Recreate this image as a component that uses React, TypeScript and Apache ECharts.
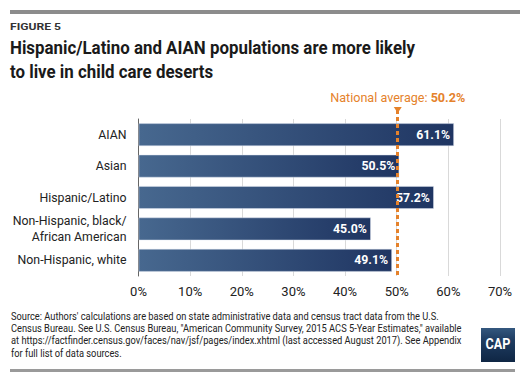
import React, { useEffect, useRef } from "react";
import * as echarts from "echarts";

const categories = ["AIAN", "Asian", "Hispanic/Latino", "Non-Hispanic, black/\nAfrican American", "Non-Hispanic, white"];
const values = [61.1, 50.5, 57.2, 45.0, 49.1];
const nationalAverage = 50.2;
const xTicks = { min: 0, max: 70, interval: 10 };
const titleLines = ["Hispanic/Latino and AIAN populations are more likely", "to live in child care deserts"];
const figureLabel = "FIGURE 5";
const sourceLines = [
  "Source: Authors' calculations are based on state administrative data and census tract data from the U.S.",
  "Census Bureau. See U.S. Census Bureau, \"American Community Survey, 2015 ACS 5-Year Estimates,\" available",
  "at https://factfinder.census.gov/faces/nav/jsf/pages/index.xhtml (last accessed August 2017). See Appendix",
  "for full list of data sources.",
];

const ORANGE = "#e5822b";

function fitScale(text: string, font: string, target: number): number {
  const c = document.createElement("canvas").getContext("2d");
  if (!c) return 1;
  c.font = font;
  const w = c.measureText(text).width;
  return w > 0 ? target / w : 1;
}

export default function App() {
  const ref = useRef<HTMLDivElement>(null);
  useEffect(() => {
    if (!ref.current) return;
    const chart = echarts.init(ref.current, null, { renderer: "svg" });
    const titleFont = "bold 18px Roboto";
    const titleScale = fitScale(titleLines[0], titleFont, 405);
    const srcFont = "10.5px Roboto";
    const srcScale = fitScale(sourceLines[0], srcFont, 428);
    const figFont = "bold 9.5px Roboto";
    const figScale = fitScale(figureLabel, figFont, 51);

    const graphics: any[] = [
      { type: "rect", shape: { x: 10, y: 10, width: 510, height: 4 }, style: { fill: "#8c8c8c" } },
      { type: "rect", shape: { x: 10, y: 369, width: 505, height: 3 }, style: { fill: "#9a9a9a" } },
      {
        type: "text", x: 10, y: 26.5, scaleX: figScale,
        style: { text: figureLabel, font: figFont, fill: "#333", textVerticalAlign: "middle" },
      },
      ...titleLines.map((t, i) => ({
        type: "text", x: 10, y: 48 + i * 23.4, scaleX: titleScale,
        style: { text: t, font: titleFont, fill: "#1a1a1a", textVerticalAlign: "middle" },
      })),
      ...sourceLines.map((t, i) => ({
        type: "text", x: 11, y: 316 + i * 12.3, scaleX: srcScale,
        style: { text: t, font: srcFont, fill: "#222", textVerticalAlign: "middle" },
      })),
      {
        type: "rect", shape: { x: 481, y: 328, width: 34, height: 34 },
        style: {
          fill: new echarts.graphic.LinearGradient(0, 0, 0, 1, [
            { offset: 0, color: "#34587f" },
            { offset: 0.35, color: "#1f3d62" },
            { offset: 1, color: "#0f2644" },
          ]),
        },
      },
      {
        type: "text", x: 498, y: 344.5, scaleX: 0.9,
        style: { text: "CAP", font: "bold 14px Roboto", fill: "#fff", textAlign: "center", textVerticalAlign: "middle" },
      },
    ];

    chart.setOption({
      animation: false,
      textStyle: { fontFamily: "Roboto" },
      grid: { left: 138.5, right: 20, top: 119, bottom: 103, outerBoundsMode: "none" },
      xAxis: {
        type: "value", min: xTicks.min, max: xTicks.max, interval: xTicks.interval,
        axisLine: { show: false }, axisTick: { show: false },
        axisLabel: { formatter: "{value}%", color: "#222", fontSize: 13, margin: 9 },
        splitLine: { lineStyle: { color: "#d9d9d9", width: 1 } },
      },
      yAxis: {
        type: "category", inverse: true, data: categories,
        axisLine: { show: true, lineStyle: { color: "#666", width: 1 } },
        axisTick: { show: false },
        axisLabel: { color: "#222", fontSize: 12.3, margin: 12, lineHeight: 16, align: "right" },
      },
      series: [
        {
          type: "bar", data: values, barWidth: 23,
          itemStyle: {
            color: new echarts.graphic.LinearGradient(0, 0, 1, 0, [
              { offset: 0, color: "#47688f" },
              { offset: 1, color: "#1f3562" },
            ]),
            borderColor: "rgba(220,228,240,0.6)", borderWidth: 0.8,
          },
          label: {
            show: true, position: "insideRight", distance: 4,
            formatter: (p: any) => p.value.toFixed(1) + "%",
            color: "#fff", fontWeight: "bold", fontSize: 12.3,
          },
          emphasis: { disabled: true },
          markLine: {
            silent: true, animation: false,
            symbol: ["triangle", "none"], symbolSize: [8, 6], symbolRotate: 180,
            lineStyle: { color: ORANGE, width: 3, type: [4, 3], opacity: 1 },
            label: {
              show: true, position: "start", distance: 6,
              formatter: "{a|National average: }{b|" + nationalAverage.toFixed(1) + "%}",
              rich: {
                a: { color: ORANGE, fontSize: 12.6, fontFamily: "Roboto" },
                b: { color: ORANGE, fontSize: 12.6, fontWeight: "bold", fontFamily: "Roboto" },
              },
            },
            emphasis: { disabled: true },
            data: [[{ coord: [nationalAverage, 0], y: 110 }, { coord: [nationalAverage, 4], y: 276 }]],
          },
        },
      ],
      graphic: graphics,
    });
    return () => chart.dispose();
  }, []);
  return <div ref={ref} style={{ position: "fixed", left: 0, top: 0, width: 520, height: 379, background: "#fff" }} />;
}
